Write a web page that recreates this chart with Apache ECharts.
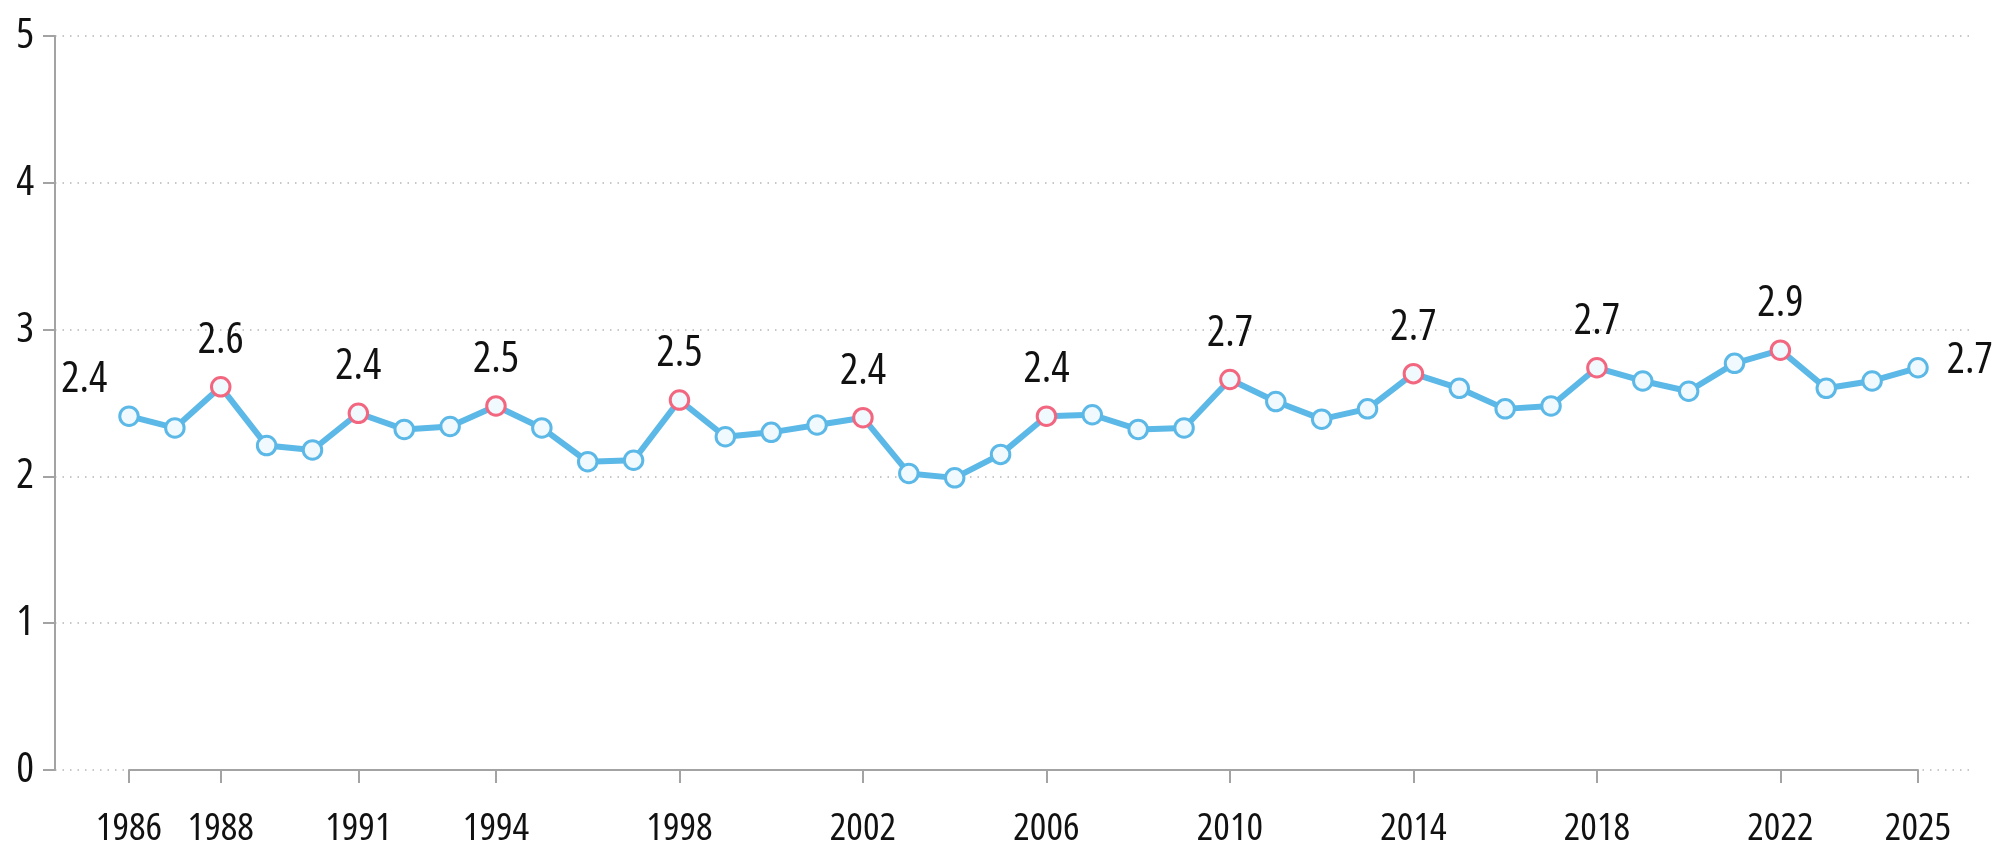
<!DOCTYPE html>
<html>
<head>
<meta charset="utf-8">
<script src="https://cdn.jsdelivr.net/npm/echarts/dist/echarts.min.js"></script>
<style>
  html, body { margin: 0; padding: 0; background: #fff; }
  #chart { width: 1996px; height: 844px; }
</style>
</head>
<body>
<div id="chart"></div>
<script>
// values
const years = [];
for (let y = 1986; y <= 2025; y++) years.push(String(y));

const values = [
  2.41, 2.33, 2.61, 2.21, 2.18, 2.43, 2.32, 2.34, 2.48, 2.33,
  2.10, 2.11, 2.52, 2.27, 2.30, 2.35, 2.40, 2.02, 1.99, 2.15,
  2.41, 2.42, 2.32, 2.33, 2.66, 2.51, 2.39, 2.46, 2.70, 2.60,
  2.46, 2.48, 2.74, 2.65, 2.58, 2.77, 2.86, 2.60, 2.65, 2.74
];

const tickYears = ['1986', '1988', '1991', '1994', '1998', '2002', '2006', '2010', '2014', '2018', '2022', '2025'];
const markedYears = ['1988', '1991', '1994', '1998', '2002', '2006', '2010', '2014', '2018', '2022'];

const yTicks = [0, 1, 2, 3, 4, 5];

// the weight string also carries font-stretch into the canvas font shorthand
const FONT = '"Open Sans", sans-serif';
const WEIGHT = '380 condensed';
const BLUE = '#5cb8e6';
const PINK = '#f2667f';
const FILL = '#eff9fe';
const AXIS = '#a3a3a3';

const txt = size => ({ color: '#111', fontFamily: FONT, fontWeight: WEIGHT, fontSize: size });

const chart = echarts.init(document.getElementById('chart'));

const seriesData = values.map((v, i) => {
  const yr = years[i];
  const item = { value: v };
  if (markedYears.includes(yr)) {
    item.itemStyle = { borderColor: PINK };
    item.label = { show: true, position: 'top', distance: 14 };
  } else if (i === 0) {
    item.label = { show: true, position: 'left', distance: 11, offset: [0, -36] };
  } else if (i === values.length - 1) {
    item.label = { show: true, position: 'right', distance: 18, offset: [0, -7] };
  }
  return item;
});

const option = {
  animation: false,
  backgroundColor: '#fff',
  grid: [
    { left: 55, right: 24, top: 36, bottom: 74, outerBoundsMode: 'none' },
    { left: 129, right: 78, top: 36, bottom: 74, outerBoundsMode: 'none' }
  ],
  xAxis: [
    { gridIndex: 0, type: 'value', min: 0, max: 1, show: false },
    {
      gridIndex: 1,
      type: 'category',
      data: years,
      boundaryGap: false,
      offset: 19,
      axisLine: { show: true, lineStyle: { color: AXIS, width: 2 } },
      axisTick: {
        show: true,
        length: 13,
        interval: (idx, val) => tickYears.includes(val),
        lineStyle: { color: AXIS, width: 2 }
      },
      axisLabel: Object.assign({
        interval: (idx, val) => tickYears.includes(val),
        margin: 20
      }, txt(39)),
      splitLine: { show: false }
    }
  ],
  yAxis: [
    {
      gridIndex: 0,
      type: 'value',
      min: 0,
      max: 5,
      interval: 1,
      axisLine: { show: true, lineStyle: { color: AXIS, width: 2 } },
      axisTick: { show: true, length: 12, lineStyle: { color: AXIS, width: 2 } },
      axisLabel: Object.assign({
        margin: 21,
        formatter: v => (yTicks.includes(v) ? String(v) : '')
      }, txt(42)),
      splitLine: {
        show: true,
        lineStyle: { color: '#b5b5b5', width: 1.5, type: [1.5, 6] }
      }
    },
    { gridIndex: 1, type: 'value', min: 0, max: 5, show: false }
  ],
  series: [
    {
      type: 'line',
      xAxisIndex: 1,
      yAxisIndex: 1,
      data: seriesData,
      symbol: 'circle',
      symbolSize: 18.5,
      lineStyle: { color: BLUE, width: 6 },
      itemStyle: { color: FILL, borderColor: BLUE, borderWidth: 3 },
      label: Object.assign({
        show: false,
        formatter: p => p.value.toFixed(1)
      }, txt(43)),
      emphasis: { disabled: true }
    }
  ]
};

chart.setOption(option);
</script>
</body>
</html>
